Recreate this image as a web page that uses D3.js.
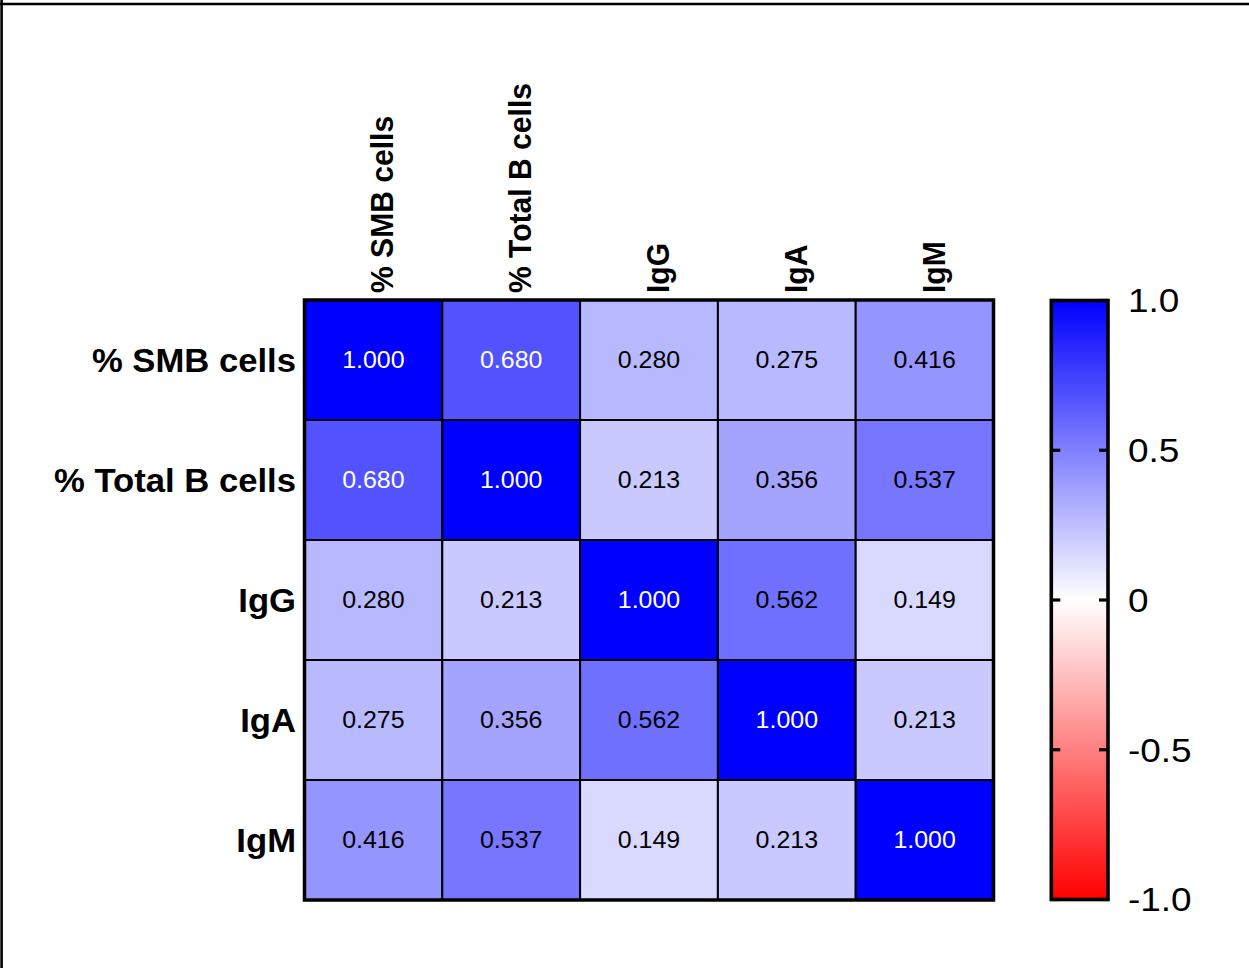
<!DOCTYPE html>
<html>
<head>
<meta charset="utf-8">
<script src="https://cdn.jsdelivr.net/npm/d3@7/dist/d3.min.js"></script>
<style>
  html, body { margin: 0; padding: 0; background: #fff; }
  svg { display: block; }
</style>
</head>
<body>
<svg id="chart" width="1249" height="968"></svg>
<script>
// Variables in the correlation matrix (rows and columns share the same order)
const variables = ["% SMB cells", "% Total B cells", "IgG", "IgA", "IgM"];

// Pearson correlation coefficients, one array per row
const rowSMB    = [1.000, 0.680, 0.280, 0.275, 0.416];
const rowTotalB = [0.680, 1.000, 0.213, 0.356, 0.537];
const rowIgG    = [0.280, 0.213, 1.000, 0.562, 0.149];
const rowIgA    = [0.275, 0.356, 0.562, 1.000, 0.213];
const rowIgM    = [0.416, 0.537, 0.149, 0.213, 1.000];
const corrRows  = [rowSMB, rowTotalB, rowIgG, rowIgA, rowIgM];

// Colour bar ticks and their labels
const barTicks  = [1.0, 0.5, 0, -0.5, -1.0];
const barLabels = ["1.0", "0.5", "0", "-0.5", "-1.0"];

const svg = d3.select("#chart");
const W = 1249, H = 968;

// Frame lines along the top and left edge
svg.append("line").attr("x1", 0).attr("x2", W).attr("y1", 4).attr("y2", 4)
  .attr("stroke", "#000").attr("stroke-width", 2.6);
svg.append("line").attr("x1", 1.6).attr("x2", 1.6).attr("y1", 0).attr("y2", H)
  .attr("stroke", "#000").attr("stroke-width", 2.6);

// Diverging colour scale: red (-1) -> white (0) -> blue (+1)
const color = d3.scaleLinear()
  .domain([-1, 0, 1])
  .range(["#ff0000", "#ffffff", "#0000ff"])
  .interpolate(d3.interpolateRgb);

const grid = { left: 304.5, right: 993.5, top: 300, bottom: 900 };

const x = d3.scaleBand().domain(variables).range([grid.left, grid.right]).padding(0);
const y = d3.scaleBand().domain(variables).range([grid.top, grid.bottom]).padding(0);

const cells = [];
corrRows.forEach((row, i) => {
  row.forEach((v, j) => cells.push({ row: variables[i], col: variables[j], value: v }));
});

const fontFamily = "Arial, 'Liberation Sans', Helvetica, sans-serif";

// Heatmap cells
const g = svg.append("g");
g.selectAll("rect.cell")
  .data(cells)
  .join("rect")
  .attr("class", "cell")
  .attr("x", d => x(d.col))
  .attr("y", d => y(d.row))
  .attr("width", x.bandwidth())
  .attr("height", y.bandwidth())
  .attr("fill", d => color(d.value))
  .attr("stroke", "#000")
  .attr("stroke-width", 2);

// Cell value labels
g.selectAll("text.value")
  .data(cells)
  .join("text")
  .attr("class", "value")
  .attr("transform", d =>
    `translate(${x(d.col) + x.bandwidth() / 2},${y(d.row) + y.bandwidth() / 2}) scale(1.04,1)`)
  .attr("text-anchor", "middle")
  .attr("dominant-baseline", "central")
  .attr("font-family", fontFamily)
  .attr("font-size", 24)
  .attr("fill", d => d.value >= 0.6 ? "#fff" : "#000")
  .text(d => d.value.toFixed(3));

// Outer border of the matrix
g.append("rect")
  .attr("x", grid.left).attr("y", grid.top)
  .attr("width", grid.right - grid.left).attr("height", grid.bottom - grid.top)
  .attr("fill", "none").attr("stroke", "#000").attr("stroke-width", 3.5);

// Row labels
svg.append("g").selectAll("text")
  .data(variables)
  .join("text")
  .attr("transform", d => `translate(296,${y(d) + y.bandwidth() / 2 + 12}) scale(1.05,1)`)
  .attr("text-anchor", "end")
  .attr("font-family", fontFamily)
  .attr("font-weight", "bold")
  .attr("font-size", 33)
  .attr("fill", "#000")
  .text(d => d);

// Column labels, rotated to read upward
svg.append("g").selectAll("text")
  .data(variables)
  .join("text")
  .attr("transform", d =>
    `translate(${x(d) + x.bandwidth() / 2 + 20},293) rotate(-90) scale(0.94,1)`)
  .attr("text-anchor", "start")
  .attr("font-family", fontFamily)
  .attr("font-weight", "bold")
  .attr("font-size", 32)
  .attr("fill", "#000")
  .text(d => d);

// Colour bar
const bar = { x0: 1051.3, x1: 1108, top: 300.5, bottom: 899.5 };
const yBar = d3.scaleLinear().domain([-1, 1]).range([bar.bottom, bar.top]);

const defs = svg.append("defs");
const grad = defs.append("linearGradient")
  .attr("id", "corr-gradient")
  .attr("x1", 0).attr("y1", 1).attr("x2", 0).attr("y2", 0);
d3.range(-1, 1.0001, 0.05).forEach(v => {
  grad.append("stop")
    .attr("offset", ((v + 1) / 2 * 100).toFixed(2) + "%")
    .attr("stop-color", color(v));
});

const barG = svg.append("g");
barG.append("rect")
  .attr("x", bar.x0).attr("y", bar.top)
  .attr("width", bar.x1 - bar.x0).attr("height", bar.bottom - bar.top)
  .attr("fill", "url(#corr-gradient)")
  .attr("stroke", "#000").attr("stroke-width", 3.6);

// Tick marks on both inner edges of the bar
barG.selectAll("line.tl")
  .data(barTicks)
  .join("line")
  .attr("class", "tl")
  .attr("x1", bar.x0).attr("x2", bar.x0 + 9)
  .attr("y1", d => yBar(d)).attr("y2", d => yBar(d))
  .attr("stroke", "#000").attr("stroke-width", 3.2);
barG.selectAll("line.tr")
  .data(barTicks)
  .join("line")
  .attr("class", "tr")
  .attr("x1", bar.x1 - 9).attr("x2", bar.x1)
  .attr("y1", d => yBar(d)).attr("y2", d => yBar(d))
  .attr("stroke", "#000").attr("stroke-width", 3.2);

barG.selectAll("text")
  .data(barTicks)
  .join("text")
  .attr("transform", d => `translate(1128,${yBar(d)}) scale(1.12,1)`)
  .attr("dominant-baseline", "central")
  .attr("font-family", fontFamily)
  .attr("font-size", 33)
  .attr("fill", "#000")
  .text((d, i) => barLabels[i]);
</script>
</body>
</html>
